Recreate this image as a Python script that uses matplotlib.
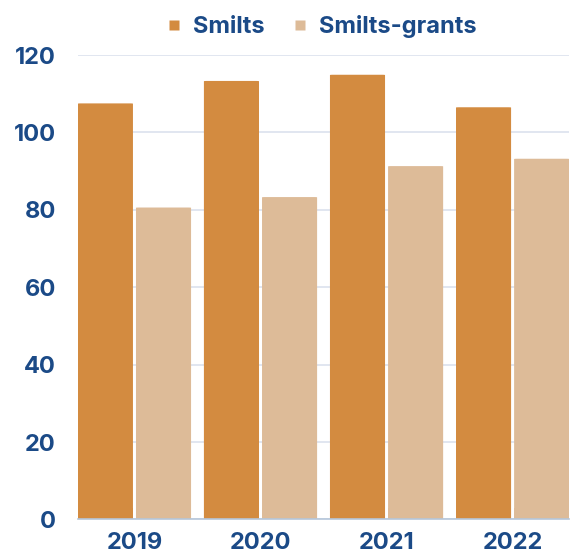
import matplotlib
matplotlib.use("Agg")
import matplotlib.pyplot as plt
import numpy as np
from matplotlib.patches import FancyBboxPatch
from matplotlib.lines import Line2D

years = ["2019", "2020", "2021", "2022"]
smilts = [107.5, 113.3, 114.9, 106.5]
smilts_grants = [80.6, 83.3, 91.3, 93.2]
series_names = ["Smilts", "Smilts-grants"]
yticks = [0, 20, 40, 60, 80, 100, 120]

colors = ["#D38B40", "#DDBB98"]
text_color = "#1B4A87"

plt.rcParams["font.family"] = ["Inter", "DejaVu Sans"]

fig = plt.figure(figsize=(5.71, 5.54), dpi=100)
ax = fig.add_axes([0.1366, 0.0623, 0.8600, 0.8384])

x = np.arange(len(years))
w = 0.437
off = w / 2 + 0.012
for vals, dx, c, name in [(smilts, -off, colors[0], series_names[0]),
                          (smilts_grants, off, colors[1], series_names[1])]:
    bars = ax.bar(x + dx, vals, width=w, color=c, label=name, zorder=3)
    for b in bars:
        b.set_visible(False)
        # rounded top corners
        fb = FancyBboxPatch((b.get_x(), 0), b.get_width(), b.get_height(),
                            boxstyle="round,pad=0,rounding_size=0.02",
                            mutation_aspect=1 / 0.033 * 0.12,
                            facecolor=c, edgecolor="none", zorder=3)
        ax.add_patch(fb)
        # square base
        ax.bar(b.get_x() + b.get_width() / 2, min(3, b.get_height()),
               width=b.get_width(), color=c, zorder=3)

ax.set_xlim(-0.448, 3.448)
ax.set_ylim(0, 120)
ax.set_yticks(yticks)
ax.set_yticklabels([str(v) for v in yticks])
ax.set_xticks(x)
ax.set_xticklabels(years)
ax.grid(axis="y", color="#DCE2EE", linewidth=1.2, zorder=0)
ax.set_axisbelow(True)
for s in ["top", "right", "left"]:
    ax.spines[s].set_visible(False)
ax.spines["bottom"].set_color("#B5C6DA")
ax.spines["bottom"].set_linewidth(1.2)
ax.spines["bottom"].set_zorder(4)
ax.tick_params(axis="both", length=0, labelsize=17, colors=text_color)
ax.tick_params(axis="y", pad=16)
ax.tick_params(axis="x", pad=9)
for lab in ax.get_xticklabels() + ax.get_yticklabels():
    lab.set_fontweight("bold")

handles = [Line2D([], [], marker="s", linestyle="none", markersize=7.5,
                  markerfacecolor=c, markeredgecolor="none") for c in colors]
leg = fig.legend(handles, series_names, loc="center", bbox_to_anchor=(0.559, 0.952),
                 ncol=2, frameon=False, fontsize=17, handletextpad=0.3,
                 columnspacing=1.0, handlelength=1.0)
for t in leg.get_texts():
    t.set_color(text_color)
    t.set_fontweight("bold")

fig.savefig("out.png", dpi=100)
